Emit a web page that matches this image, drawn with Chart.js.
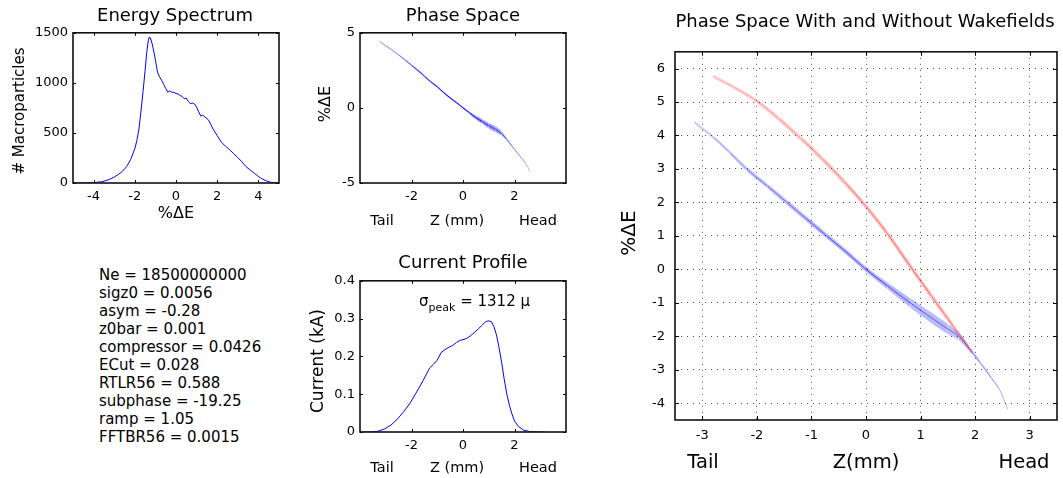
<!DOCTYPE html>
<html><head><meta charset="utf-8">
<script src="https://cdn.jsdelivr.net/npm/chart.js@4.4.1/dist/chart.umd.min.js"></script>
<style>
html,body{margin:0;padding:0;background:#fff;}
body{width:1063px;height:478px;position:relative;overflow:hidden;font-family:"DejaVu Sans",sans-serif;color:#000;}
.cv{position:absolute;}
.t{position:absolute;white-space:nowrap;line-height:1;transform:translate(-50%,-50%);}
.r{position:absolute;white-space:nowrap;text-align:center;font-weight:normal;transform:rotate(-90deg);}
.blk{position:absolute;white-space:nowrap;font-size:15px;line-height:18px;}
</style></head><body>
<div id="root"></div>
<script>
// ---------- DATA ----------
// Energy spectrum (%dE vs # macroparticles)
const eX = [-5,-4.5,-4,-3.6,-3.3,-3.0,-2.8,-2.6,-2.4,-2.2,-2.0,-1.9,-1.8,-1.7,-1.6,-1.5,-1.42,-1.35,-1.3,-1.25,-1.18,-1.1,-1.0,-0.9,-0.8,-0.7,-0.6,-0.5,-0.4,-0.3,-0.2,-0.1,0,0.1,0.2,0.3,0.4,0.5,0.6,0.7,0.8,0.9,1.0,1.1,1.2,1.3,1.4,1.5,1.6,1.7,1.8,2.0,2.2,2.4,2.6,2.8,3.0,3.2,3.4,3.6,3.8,4.0,4.2,4.4,4.6,4.8,4.95];
const eY = [0,1,3,13,30,59,85,117,163,235,342,424,538,717,913,1125,1304,1418,1457,1450,1408,1337,1232,1108,1060,1027,985,945,906,920,906,906,893,890,874,864,841,848,815,792,799,789,757,711,668,678,659,646,620,580,538,473,408,368,333,293,254,212,163,130,98,65,39,20,7,3,1];
const eXTicks = [-4,-2,0,2,4];
const eYTicks = [0,500,1000,1500];

// Small phase space (Z mm vs %dE): centre line, half width, density
const psX = [-3.25,-3.0,-2.75,-2.5,-2.25,-2.0,-1.75,-1.5,-1.25,-1.0,-0.75,-0.5,-0.25,0,0.25,0.5,0.75,1.0,1.25,1.5,1.7,1.9,2.1,2.3,2.45,2.6];
const psY = [4.44,4.13,3.85,3.53,3.2,2.84,2.49,2.12,1.73,1.41,1.02,0.67,0.35,0,-0.32,-0.65,-0.91,-1.19,-1.41,-1.71,-2.1,-2.53,-2.97,-3.4,-3.72,-4.22];
const psW = [0.05,0.05,0.05,0.05,0.06,0.06,0.06,0.06,0.06,0.06,0.06,0.06,0.06,0.06,0.08,0.12,0.15,0.18,0.2,0.15,0.08,0.06,0.05,0.05,0.05,0.05];
const psA = [0.2,0.25,0.3,0.4,0.5,0.6,0.7,0.8,0.85,0.9,0.9,0.9,0.9,0.9,0.85,0.8,0.75,0.7,0.65,0.55,0.4,0.3,0.25,0.2,0.15,0.1];
const psXTicks = [-2,0,2];
const psYTicks = [-5,0,5];

// Current profile (Z mm vs kA)
const cX = [-3.94,-3.6,-3.3,-3.05,-2.8,-2.55,-2.3,-2.05,-1.8,-1.55,-1.3,-1.15,-1.0,-0.85,-0.7,-0.55,-0.4,-0.25,-0.1,0,0.15,0.3,0.45,0.6,0.75,0.88,1.0,1.1,1.2,1.3,1.4,1.5,1.6,1.7,1.8,1.9,2.0,2.15,2.35,2.6,2.9,3.18];
const cY = [0,0,0.002,0.008,0.018,0.034,0.054,0.077,0.106,0.136,0.169,0.179,0.19,0.21,0.218,0.224,0.229,0.237,0.243,0.244,0.248,0.255,0.264,0.273,0.283,0.292,0.294,0.292,0.279,0.257,0.223,0.184,0.14,0.101,0.071,0.048,0.029,0.015,0.005,0.001,0,0];
const cXTicks = [-2,0,2];
const cYTicks = [0,0.1,0.2,0.3,0.4];

// Big phase space: red (with wakefields) and blue (without)
const rX = [-2.8,-2.4,-2.0,-1.6,-1.2,-0.8,-0.4,0,0.4,0.8,1.2,1.6,1.95];
const rY = [5.77,5.42,5.03,4.5,3.92,3.3,2.62,1.88,1.05,0.12,-0.8,-1.7,-2.5];
const rW = [0.05,0.06,0.07,0.08,0.08,0.09,0.09,0.09,0.1,0.1,0.1,0.09,0.06];
const rA = [0.2,0.25,0.3,0.32,0.36,0.4,0.44,0.46,0.5,0.5,0.46,0.42,0.3];
const bX = [-3.15,-2.8,-2.5,-2.19,-1.8,-1.45,-1.1,-0.72,-0.35,0,0.4,0.81,1.2,1.5,1.7,1.9,2.1,2.3,2.45,2.6];
const bY = [4.4,3.95,3.5,3.0,2.48,2.0,1.52,1.0,0.5,0,-0.5,-1.0,-1.45,-1.78,-2.0,-2.38,-2.8,-3.25,-3.6,-4.18];
const bW = [0.04,0.05,0.06,0.07,0.07,0.08,0.08,0.08,0.08,0.08,0.1,0.14,0.16,0.15,0.12,0.08,0.05,0.04,0.03,0.02];
const bA = [0.15,0.25,0.3,0.4,0.45,0.5,0.55,0.6,0.6,0.65,0.6,0.55,0.55,0.5,0.45,0.35,0.3,0.25,0.2,0.12];
const bigXTicks = [-3,-2,-1,0,1,2,3];
const bigYTicks = [-4,-3,-2,-1,0,1,2,3,4,5,6];

const params = ["Ne = 18500000000","sigz0 = 0.0056","asym = -0.28","z0bar = 0.001","compressor = 0.0426","ECut = 0.028","RTLR56 = 0.588","subphase = -19.25","ramp = 1.05","FFTBR56 = 0.0015"];

// ---------- HELPERS ----------
Chart.defaults.font.family = '"DejaVu Sans", sans-serif';
Chart.defaults.color = '#000';
Chart.defaults.animation = false;

const root = document.getElementById('root');
function txt(s, cx, cy, size) {
  const d = document.createElement('div');
  d.className = 't';
  d.style.left = cx + 'px'; d.style.top = cy + 'px'; d.style.fontSize = size + 'px';
  d.textContent = s; root.appendChild(d); return d;
}
function vtxt(s, cx, cy, size) {
  const w = 160, h = 20;
  const d = document.createElement('div');
  d.className = 'r';
  d.style.left = (cx - w / 2) + 'px'; d.style.top = (cy - h / 2) + 'px';
  d.style.width = w + 'px'; d.style.height = h + 'px'; d.style.lineHeight = h + 'px';
  d.style.fontSize = size + 'px';
  d.textContent = s; root.appendChild(d); return d;
}
const boxPlugin = {
  id: 'mbox',
  afterDatasetsDraw(chart, args, opts) {
    const {ctx, chartArea: a, scales} = chart;
    const tl = opts.tl || 3;
    ctx.save();
    ctx.strokeStyle = '#000'; ctx.lineWidth = 1;
    ctx.beginPath();
    scales.x.ticks.forEach(t => {
      const p = Math.round(scales.x.getPixelForValue(t.value)) + 0.5;
      ctx.moveTo(p, a.bottom); ctx.lineTo(p, a.bottom - tl);
      ctx.moveTo(p, a.top); ctx.lineTo(p, a.top + tl);
    });
    scales.y.ticks.forEach(t => {
      const p = Math.round(scales.y.getPixelForValue(t.value)) + 0.5;
      ctx.moveTo(a.left, p); ctx.lineTo(a.left + tl, p);
      ctx.moveTo(a.right, p); ctx.lineTo(a.right - tl, p);
    });
    ctx.stroke();
    ctx.lineWidth = 1.6; ctx.strokeStyle = '#111';
    ctx.strokeRect(a.left, a.top, a.right - a.left, a.bottom - a.top);
    ctx.restore();
  }
};
function scale(min, max, ticks, fit, pad, grid) {
  return {
    type: 'linear', min, max,
    afterBuildTicks: s => { s.ticks = ticks.map(v => ({value: v})); },
    afterFit: s => { if (s.isHorizontal()) s.height = fit; else s.width = fit; },
    grid: grid ? {display: true, drawTicks: false, color: 'rgba(0,0,0,0.7)', lineWidth: 1} : {display: false, drawTicks: false},
    border: {display: false, dash: grid ? [1, 5] : []},
    ticks: {font: {size: 13}, color: '#000', padding: pad, autoSkip: false, maxRotation: 0, callback: v => String(v)}
  };
}
function make(left, top, w, h, pr, datasets, xs, ys, tl) {
  const c = document.createElement('canvas');
  c.className = 'cv'; c.width = w; c.height = h;
  c.style.left = left + 'px'; c.style.top = top + 'px';
  c.style.width = w + 'px'; c.style.height = h + 'px';
  root.appendChild(c);
  return new Chart(c, {
    type: 'scatter',
    data: {datasets},
    options: {
      responsive: false, animation: false,
      layout: {padding: {top: 10, right: pr, left: 0, bottom: 0}},
      plugins: {legend: {display: false}, tooltip: {enabled: false}, mbox: {tl}},
      scales: {x: xs, y: ys}
    },
    plugins: [boxPlugin]
  });
}
const pts = (X, Y) => X.map((x, i) => ({x, y: Y[i]}));
const lineDs = (X, Y, col) => ({data: pts(X, Y), showLine: true, pointRadius: 0, borderColor: col, borderWidth: 1, tension: 0});
function band(X, Y, W, A, rgb, fillA) {
  const lo = X.map((x, i) => ({x, y: Y[i] - W[i]}));
  const hi = X.map((x, i) => ({x, y: Y[i] + W[i]}));
  return [
    {data: lo, showLine: true, pointRadius: 0, borderWidth: 0, borderColor: 'rgba(0,0,0,0)', fill: false, tension: 0.3},
    {data: hi, showLine: true, pointRadius: 0, borderWidth: 0, borderColor: 'rgba(0,0,0,0)', fill: '-1', tension: 0.3,
     backgroundColor: `rgba(${rgb},${fillA})`,
     segment: {backgroundColor: ctx => `rgba(${rgb},${(fillA * (0.4 + A[ctx.p0DataIndex])).toFixed(3)})`}},
    {data: pts(X, Y), showLine: true, pointRadius: 0, borderWidth: 1, tension: 0.3, fill: false,
     borderColor: `rgba(${rgb},0.6)`,
     segment: {borderColor: ctx => `rgba(${rgb},${A[ctx.p0DataIndex]})`}}
  ];
}

// ---------- CHARTS ----------
// Energy spectrum: box (73,30)-(279,183)
make(23, 20, 266, 193, 10, [lineDs(eX, eY, '#0000ff')],
  scale(-5, 5, eXTicks, 30, 6), scale(0, 1500, eYTicks, 50, 5), 3);
// Phase space small: box (360,30)-(566,183)
make(310, 20, 266, 193, 10, band(psX, psY, psW, psA, '0,0,255', 0.35),
  scale(-4, 4, psXTicks, 30, 6), scale(-5, 5, psYTicks, 50, 5), 3);
// Current profile: box (360,278)-(566,432)
make(310, 268, 266, 194, 10, [lineDs(cX, cY, '#0000ff')],
  scale(-4, 4, cXTicks, 30, 6), scale(0, 0.4, cYTicks, 50, 5), 3);
// Big phase space: box (675,44)-(1057,420)
make(625, 34, 438, 416, 6, [...band(rX, rY, rW, rA, '255,0,0', 0.25), ...band(bX, bY, bW, bA, '0,0,255', 0.28)],
  scale(-3.5, 3.5, bigXTicks, 30, 8, true), scale(-4.5, 6.5, bigYTicks, 50, 10, true), 4);

// ---------- TEXT ----------
txt('Energy Spectrum', 175, 15, 18);
vtxt('# Macroparticles', 19, 111, 15);
txt('%\u0394E', 176, 213, 16);
txt('Phase Space', 463, 15, 18);
vtxt('%\u0394E', 325, 104, 16);
txt('Tail', 382, 220, 14.5);
txt('Z (mm)', 457, 220, 14.5);
txt('Head', 538, 220, 14.5);
txt('Current Profile', 463, 262, 18);
vtxt('Current (kA)', 317, 361, 17);
txt('Tail', 382, 467, 14.5);
txt('Z (mm)', 457, 467, 14.5);
txt('Head', 538, 467, 14.5);
const sg = document.createElement('div');
sg.className = 'blk'; sg.style.left = '419px'; sg.style.top = '292px';
sg.innerHTML = '\u03c3<span style="font-size:11px;position:relative;top:5px">peak</span> = 1312 \u03bc';
root.appendChild(sg);
const blk = document.createElement('div');
blk.className = 'blk'; blk.style.left = '99px'; blk.style.top = '266px';
blk.innerHTML = params.map(s => '<div>' + s + '</div>').join('');
root.appendChild(blk);
txt('Phase Space With and Without Wakefields', 865, 21, 18);
vtxt('%\u0394E', 628, 233, 20);
txt('Tail', 703, 462, 19.5);
txt('Z(mm)', 866, 462, 19.5);
txt('Head', 1024, 462, 19.5);
</script>
</body></html>
